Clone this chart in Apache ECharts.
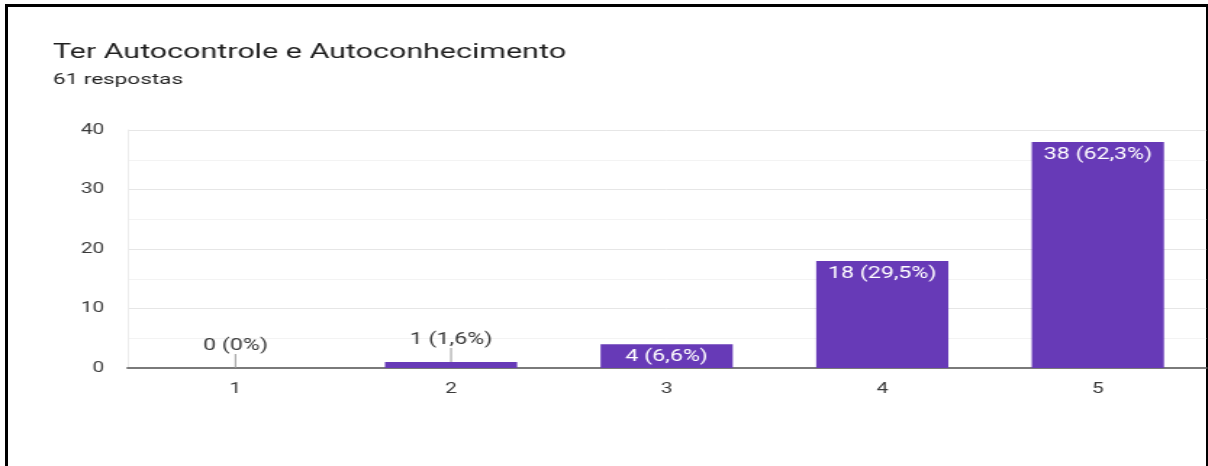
<!DOCTYPE html>
<html>
<head>
<meta charset="utf-8">
<script src="https://cdn.jsdelivr.net/npm/echarts@6/dist/echarts.min.js"></script>
<style>
  html, body { margin: 0; padding: 0; background: #fff; }
  body { width: 1208px; height: 466px; position: relative; overflow: hidden; }
  #frame {
    position: absolute; left: 5px; top: 4px; width: 1198px; height: 470px;
    border-left: 3px solid #000; border-top: 3px solid #000; border-right: 2px solid #000;
  }
  /* chart is laid out narrow, then widened horizontally */
  #chart {
    position: absolute; left: 0; top: 0; width: 833px; height: 466px;
    transform: scaleX(1.45); transform-origin: 0 0;
  }
</style>
</head>
<body>
<div id="frame"></div>
<div id="chart"></div>
<script>
const titleText = 'Ter Autocontrole e Autoconhecimento';
const subtitleText = '61 respostas';
const categories = ['1', '2', '3', '4', '5'];
const counts = [0, 1, 4, 18, 38];
const yTicks = { min: 0, max: 40, interval: 10 };

const total = counts.reduce((a, b) => a + b, 0);
const pctText = v => String(parseFloat((v / total * 100).toFixed(1))).replace('.', ',');
const labelText = v => v + ' (' + pctText(v) + '%)';

const FONT = 'Roboto';
const purple = '#673ab7';

// short bars carry their label above, joined by a thin leader stroke
const barData = counts.map(v => {
  const outside = v < 3;
  return {
    value: v,
    label: outside ? {
      position: 'top',
      distance: 0,
      formatter: () => '{t|' + labelText(v) + '}\n{l|}',
      rich: {
        t: { fontFamily: FONT, fontSize: 16, color: '#3a3a3a', lineHeight: 16, align: 'center' },
        l: { width: 1, height: 14, backgroundColor: '#9a9a9a', align: 'center' }
      }
    } : {
      position: 'insideTop',
      distance: 5,
      color: '#fff',
      formatter: () => labelText(v)
    }
  };
});

const chart = echarts.init(document.getElementById('chart'), null, { renderer: 'canvas' });
chart.setOption({
  animation: false,
  title: [
    { text: titleText, left: 36.5, top: 42, padding: 0,
      textStyle: { fontFamily: FONT, fontSize: 21, fontWeight: 'normal', color: '#1f1f1f' } },
    { text: subtitleText, left: 36.5, top: 72, padding: 0,
      textStyle: { fontFamily: FONT, fontSize: 15.5, fontWeight: 'normal', color: '#1f1f1f' } }
  ],
  grid: { left: 88, top: 130, width: 743.5, height: 238, containLabel: false },
  xAxis: {
    type: 'category',
    data: categories,
    axisLine: { show: true, lineStyle: { color: '#7a7a7a', width: 2 } },
    axisTick: { show: false },
    axisLabel: { fontFamily: FONT, fontSize: 14.5, color: '#3a3a3a', margin: 14 },
    splitLine: { show: false }
  },
  yAxis: {
    type: 'value',
    min: yTicks.min, max: yTicks.max, interval: yTicks.interval,
    axisLine: { show: true, lineStyle: { color: '#ececec', width: 1 } },
    axisTick: { show: false },
    axisLabel: { fontFamily: FONT, fontSize: 14.5, color: '#3a3a3a', margin: 16 },
    splitLine: { show: true, lineStyle: { color: '#e6e6e6', width: 1 } },
    minorTick: { show: false, splitNumber: 2 },
    minorSplitLine: { show: true, lineStyle: { color: '#f3f3f3', width: 1 } }
  },
  series: [{
    type: 'bar',
    data: barData,
    barWidth: '61.3%',
    itemStyle: { color: purple },
    label: { show: true, fontFamily: FONT, fontSize: 16 }
  }]
});
</script>
</body>
</html>
